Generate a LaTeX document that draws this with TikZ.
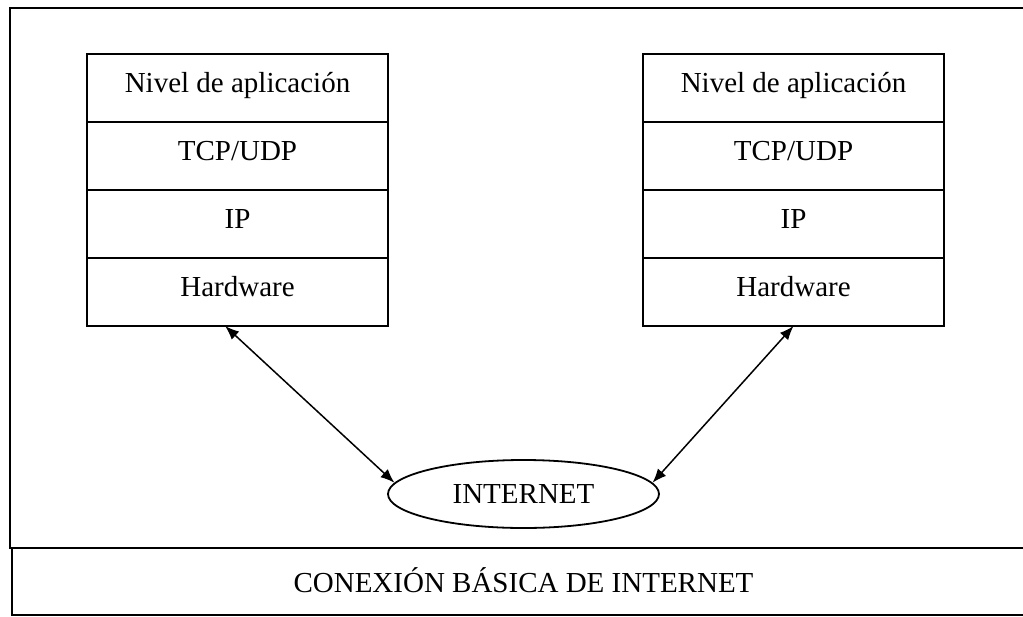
\documentclass[tikz,border=0pt]{standalone}
\usepackage{fontspec}
\setmainfont{Liberation Serif}
\usepackage{tikz}
\usetikzlibrary{arrows.meta,positioning,shapes.geometric}

\begin{document}
\begin{tikzpicture}[
  x=0.5pt, y=-0.5pt,
  font=\fontsize{14.5}{17}\selectfont,
  layer/.style={draw, line width=1pt, minimum width=150.5pt, minimum height=34pt, inner sep=0pt, outer sep=0pt, text height=9.5pt, text depth=5.5pt},
  net/.style={draw, ellipse, line width=.9pt, minimum width=135.5pt, minimum height=34pt, inner sep=0pt},
  link/.style={{Latex[length=7pt,width=5.5pt]}-{Latex[length=7pt,width=5.5pt]}, line width=.75pt},
  frame/.style={line width=.9pt}
]
  \useasboundingbox (0,0) rectangle (1023,616);
  \draw[frame] (1023,8) -| (10,548) -- (1023,548);
  \draw[frame, line width=1.4pt] (12,548) |- (1023,615);
  \node (title) at (523.5,580) {CONEXIÓN BÁSICA DE INTERNET};

  \foreach \side/\cx in {L/237.5,R/793.5} {
    \node[layer] (app\side) at (\cx,88) {Nivel de aplicación};
    \node[layer, below=0pt of app\side] (tcp\side) {TCP/UDP};
    \node[layer, below=0pt of tcp\side] (ip\side) {IP};
    \node[layer, below=0pt of ip\side] (hw\side) {Hardware};
  }

  \node[net] (inet) at (523.5,494) {INTERNET};
  \draw[link] (hwL.250) -- (inet.175);
  \draw[link] (hwR.south) -- (inet.5);
\end{tikzpicture}
\end{document}
